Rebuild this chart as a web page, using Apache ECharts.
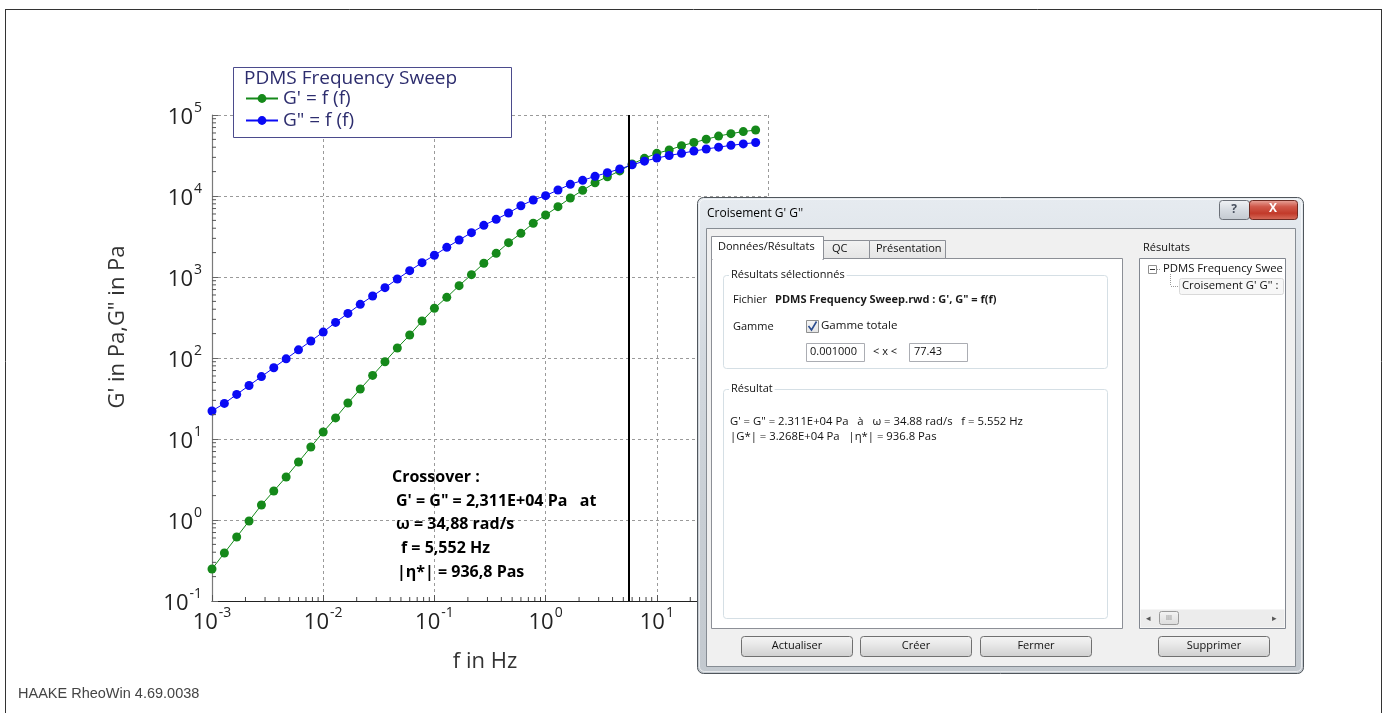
<!DOCTYPE html>
<html><head><meta charset="utf-8">
<script src="https://cdn.jsdelivr.net/npm/echarts@6/dist/echarts.min.js"></script>
<style>html,body{margin:0;padding:0;background:#fff}#c{width:1387px;height:713px}</style>
</head><body><div id="c"></div>
<script>
// ---------- data ----------
const frequencyHz = [0.001, 0.001292, 0.001668, 0.002154, 0.002783, 0.003594, 0.004642, 0.005995, 0.007743,
  0.01, 0.01292, 0.01668, 0.02154, 0.02783, 0.03594, 0.04642, 0.05995, 0.07743,
  0.1, 0.1292, 0.1668, 0.2154, 0.2783, 0.3594, 0.4642, 0.5995, 0.7743,
  1, 1.292, 1.668, 2.154, 2.783, 3.594, 4.642, 5.995, 7.743,
  10, 12.92, 16.68, 21.54, 27.83, 35.94, 46.42, 59.95, 77.43];
const gPrime = [0.248, 0.392, 0.617, 0.973, 1.53, 2.28, 3.40, 5.20, 7.96,
  12.2, 18.2, 27.8, 41.4, 61.0, 90.0, 133, 192, 286,
  411, 561, 782, 1069, 1476, 1959, 2655, 3459, 4603,
  5821, 7379, 9441, 11749, 14588, 17298, 20417, 24831, 29174,
  33651, 36983, 41687, 45709, 50119, 54954, 58884, 62373, 65313];
const gDoublePrime = [22.2, 27.5, 35.5, 45.7, 58.9, 75.9, 97.7, 126, 162,
  209, 275, 355, 460, 582, 738, 944, 1197, 1503,
  1854, 2323, 2864, 3524, 4345, 5152, 6166, 7586, 8933,
  10093, 11858, 13932, 15596, 17498, 19409, 21528, 24266, 26915,
  29376, 31623, 33651, 35892, 38019, 40088, 42170, 43954, 45709];
const crossoverHz = 5.552;
const seriesNames = ["G' = f (f)", 'G" = f (f)'];
const legendTitle = 'PDMS Frequency Sweep';
const xDecades = [0.001, 0.01, 0.1, 1, 10];
const yDecades = [0.1, 1, 10, 100, 1000, 10000];
const minorMultipliers = [2, 3, 4, 5, 6, 7, 8, 9];
const xAxisTitle = 'f in Hz';
const yAxisTitle = 'G\' in Pa,G" in Pa';
const annotationLines = ['Crossover :', 'G\' = G" = 2,311E+04 Pa   at', 'ω = 34,88 rad/s', 'f = 5,552 Hz', '|η*| = 936,8 Pas'];
const footerText = 'HAAKE RheoWin 4.69.0038';
// dialog texts
const dlgTitle = "Croisement G' G''";
const dlgTabs = ['Données/Résultats', 'QC', 'Présentation'];
const dlgGroup1 = 'Résultats sélectionnés';
const dlgFileLabel = 'Fichier';
const dlgFileName = 'PDMS Frequency Sweep.rwd : G\', G" = f(f)';
const dlgRangeLabel = 'Gamme';
const dlgRangeCheck = 'Gamme totale';
const dlgRangeMin = '0.001000';
const dlgRangeOp = '< x <';
const dlgRangeMax = '77.43';
const dlgGroup2 = 'Résultat';
const dlgResultLines = ['G\' = G" = 2.311E+04 Pa   à   ω = 34.88 rad/s   f = 5.552 Hz', '|G*| = 3.268E+04 Pa   |η*| = 936.8 Pas'];
const dlgTreeLabel = 'Résultats';
const dlgTreeItems = ['PDMS Frequency Swee', "Croisement G' G'' :"];
const dlgButtons = ['Actualiser', 'Créer', 'Fermer', 'Supprimer'];

// ---------- helpers ----------
const minorX = [];
xDecades.forEach(d => minorMultipliers.forEach(m => { if (m * d < 100) minorX.push(m * d); }));
const minorY = [];
yDecades.forEach(d => minorMultipliers.forEach(m => { if (m * d < 100000) minorY.push(m * d); }));

function supLabel(v) {
  const e = Math.round(Math.log10(v));
  return '{b|10}{s|' + e + '}';
}
const labelRich = {
  b: { fontSize: 22, fontFamily: 'Open Sans', color: '#222', lineHeight: 28, verticalAlign: 'bottom' },
  s: { fontSize: 14, fontFamily: 'Open Sans', color: '#222', lineHeight: 28, verticalAlign: 'top', padding: [0, 0, 0, 1] }
};

let zc = 100;
function R(x, y, w, h, fill, stroke, r, lw) {
  return { type: 'rect', z: zc++, silent: true, shape: { x: x + 0.5, y: y + 0.5, width: w, height: h, r: r || 0 },
    style: { fill: fill || 'none', stroke: stroke || 'none', lineWidth: lw || 1 } };
}
function T(x, y, text, o) {
  o = o || {};
  return { type: 'text', z: zc++, silent: true, x: x, y: y, rotation: o.rot || 0,
    style: { text: text, fontSize: o.size || 11, fontFamily: o.family || 'Open Sans', fontWeight: o.weight || 'normal',
      fill: o.color || '#111', align: o.align || 'left', verticalAlign: 'middle', textAlign: o.align || 'left',
      textVerticalAlign: 'middle', backgroundColor: o.bg, padding: o.pad } };
}
function L(x1, y1, x2, y2, stroke, lw, dash) {
  return { type: 'line', z: zc++, silent: true, shape: { x1: x1, y1: y1, x2: x2, y2: y2 },
    style: { stroke: stroke, lineWidth: lw || 1, lineDash: dash } };
}
function grad(stops) {
  return new echarts.graphic.LinearGradient(0, 0, 0, 1, stops.map((c, i) => ({ offset: i / (stops.length - 1), color: c })));
}

// ---------- graphic elements ----------
const g = [];
// page frame
g.push(L(5, 9.5, 1382, 9.5, '#333', 1));
g.push(L(5.5, 10, 5.5, 713, '#333', 1));
g.push(L(1381.5, 10, 1381.5, 713, '#333', 1));
g.push(T(18, 694, footerText, { size: 14.5, family: 'Liberation Sans', color: '#444' }));
// chart annotations
g.push(T(118, 327, yAxisTitle, { size: 22, color: '#333', align: 'center', rot: Math.PI / 2 }));
const annX = [392, 396, 396, 401, 397];
const annY = [477, 501, 524, 548, 572];
annotationLines.forEach((s, i) => g.push(Object.assign(T(annX[i], annY[i], s, { size: 16, weight: 'bold', color: '#000' }), { z: 6 })));
// legend box
const lb = R(233, 67, 278, 70, '#fff', '#4b4b8c', 0, 1); lb.z = 5; g.push(lb);
const lt = T(244, 79, legendTitle, { size: 19, color: '#2d2d6e' }); lt.z = 11; g.push(lt);

// ---------- dialog ----------
zc = 100;
g.push(R(697, 197, 606, 476, grad(['#e6ebf0', '#d3d9df', '#c8ced4', '#c3c9cf']), '#50565c', 6, 1));
g.push(R(699, 199, 602, 472, 'none', 'rgba(255,255,255,0.6)', 5, 1));
g.push(T(707, 214, dlgTitle, { size: 12, color: '#000' }));
g.push(R(1219, 200, 30, 19, grad(['#f1f3f6', '#d6dbe1', '#c3c9d0']), '#6b7078', 3, 1));
g.push(T(1234, 210, '?', { size: 12, color: '#4a5260', align: 'center', weight: 'bold' }));
g.push(R(1249, 200, 48, 19, grad(['#e9a99f', '#d0594b', '#c23a2a', '#d8705f']), '#6e2a22', 3, 1));
g.push(T(1273, 209, 'X', { size: 12, color: '#fff', align: 'center', weight: 'bold' }));
// client area
g.push(R(706, 228, 589, 438, '#f0f0f0', '#868c93', 0, 1));
// tab page
g.push(R(711, 258, 411, 370, '#fff', '#8c8f96', 0, 1));
// tabs
g.push(R(823, 240, 46, 18, grad(['#f3f3f3', '#e4e4e4']), '#8c8f96', 0, 1));
g.push(T(832, 249, dlgTabs[1]));
g.push(R(869, 240, 76, 18, grad(['#f3f3f3', '#e4e4e4']), '#8c8f96', 0, 1));
g.push(T(876, 249, dlgTabs[2]));
g.push(R(711, 236, 112, 23, '#fff', '#8c8f96', 0, 1));
g.push(R(712, 257, 110, 3, '#fff', 'none'));
g.push(T(718, 247, dlgTabs[0]));
// group 1
g.push(R(723, 275, 384, 93, 'none', '#d5dfe5', 3, 1));
g.push(T(729, 275, dlgGroup1, { bg: '#fff', pad: [0, 2, 0, 2] }));
g.push(T(733, 300, dlgFileLabel));
g.push(T(775, 300, dlgFileName, { size: 11, weight: 'bold', color: '#1a1a1a' }));
g.push(T(733, 327, dlgRangeLabel));
g.push(R(806, 320, 12, 12, grad(['#f6f6f6', '#e4e4e4']), '#8e8f8f', 0, 1));
g.push({ type: 'polyline', z: zc++, silent: true, shape: { points: [[808.5, 326], [811.5, 330], [816.5, 321.5]] }, style: { stroke: '#2b4d8f', lineWidth: 1.6, fill: 'none' } });
g.push(T(821, 326, dlgRangeCheck, { size: 11.5 }));
g.push(R(806, 343, 58, 18, '#fff', '#abadb3', 0, 1));
g.push(T(810, 352, dlgRangeMin));
g.push(T(873, 352, dlgRangeOp));
g.push(R(909, 343, 58, 18, '#fff', '#abadb3', 0, 1));
g.push(T(914, 352, dlgRangeMax));
// group 2
g.push(R(723, 389, 384, 229, 'none', '#d5dfe5', 3, 1));
g.push(T(729, 389, dlgGroup2, { bg: '#fff', pad: [0, 2, 0, 2] }));
g.push(T(730, 422, dlgResultLines[0], { size: 11.3 }));
g.push(T(730, 437, dlgResultLines[1], { size: 11.3 }));
// tree
g.push(T(1143, 248, dlgTreeLabel));
g.push(R(1139, 258, 146, 370, '#fff', '#828790', 0, 1));
g.push(R(1148, 265, 8, 8, '#fff', '#8f8f8f', 0, 1));
g.push(L(1150, 269.5, 1155, 269.5, '#333', 1));
g.push(L(1157, 269.5, 1161, 269.5, '#999', 1, [1, 1]));
g.push(T(1163, 269, dlgTreeItems[0], { size: 11.3 }));
g.push(L(1170.5, 274, 1170.5, 286, '#999', 1, [1, 1]));
g.push(L(1171, 286.5, 1178, 286.5, '#999', 1, [1, 1]));
g.push(R(1179, 278, 104, 16, '#f7f7f7', '#d9d9d9', 2, 1));
g.push(T(1182, 286, dlgTreeItems[1], { size: 11.3 }));
// scrollbar
g.push(R(1140, 609, 144, 18, '#ececec', 'none'));
g.push(T(1146, 618, '◂', { size: 9, color: '#555' }));
g.push(R(1159, 611, 19, 13, grad(['#f4f4f4', '#dcdcdc']), '#9a9a9a', 2, 1));
g.push(T(1169, 618, 'III', { size: 7, color: '#777', align: 'center' }));
g.push(T(1272, 618, '▸', { size: 9, color: '#555' }));
// buttons
const bx = [741, 860, 980, 1158];
dlgButtons.forEach((b, i) => {
  g.push(R(bx[i], 636, 111, 20, grad(['#f4f4f4', '#ebebeb', '#dddddd', '#cfcfcf']), '#707070', 3, 1));
  g.push(T(bx[i] + 56, 646, b, { size: 11, align: 'center' }));
});

// minor tick marks drawn through the axes' own scales
function minorTickSeries(values, onX) {
  return {
    type: 'custom', silent: true, z: 4, clip: false,
    data: values.map(v => onX ? [v, 1] : [1, v]),
    encode: { x: 0, y: 1 },
    renderItem: function (params, api) {
      const cs = params.coordSys;
      const p = api.coord([api.value(0), api.value(1)]);
      if (onX) {
        const y = cs.y + cs.height;
        return { type: 'line', shape: { x1: p[0], y1: y, x2: p[0], y2: y - 4 }, style: { stroke: '#444', lineWidth: 1 } };
      }
      return { type: 'line', shape: { x1: cs.x, y1: p[1], x2: cs.x + 4, y2: p[1] }, style: { stroke: '#555', lineWidth: 1 } };
    },
    tooltip: { show: false }
  };
}

// ---------- chart ----------
const chart = echarts.init(document.getElementById('c'), null, { renderer: 'canvas' });
chart.setOption({
  animation: false,
  backgroundColor: '#fff',
  grid: { left: 212, top: 115, width: 556, height: 486 },
  legend: {
    data: seriesNames, orient: 'vertical', left: 240, top: 83, itemGap: 1, itemWidth: 32, itemHeight: 11, z: 10,
    textStyle: { fontSize: 19, fontFamily: 'Open Sans', color: '#2d2d6e', lineHeight: 21 }
  },
  xAxis: {
    type: 'log', logBase: 10, min: 0.001, max: 100, splitNumber: 5,
    axisLine: { lineStyle: { color: '#222', width: 1.2 } },
    axisTick: { show: true, inside: true, length: 6, lineStyle: { color: '#555' } },
    axisLabel: { formatter: supLabel, rich: labelRich, margin: 5 },
    splitLine: { show: true, lineStyle: { color: '#9a9a9a', type: [3, 3], width: 1 } },
    name: xAxisTitle, nameLocation: 'middle', nameGap: 50,
    nameTextStyle: { fontSize: 22, fontFamily: 'Open Sans', color: '#333', padding: [0, 10, 0, 0] }
  },
  yAxis: {
    type: 'log', logBase: 10, min: 0.1, max: 100000, splitNumber: 6,
    axisLine: { lineStyle: { color: '#7a7a7a', width: 1.2 } },
    axisTick: { show: true, inside: true, length: 6, lineStyle: { color: '#666' } },
    axisLabel: { formatter: supLabel, rich: labelRich, margin: 10 },
    splitLine: { show: true, lineStyle: { color: '#9a9a9a', type: [3, 3], width: 1 } }
  },
  series: [
    {
      name: seriesNames[0], type: 'line',
      data: frequencyHz.map((f, i) => [f, gPrime[i]]),
      symbol: 'circle', symbolSize: 9, showSymbol: true,
      itemStyle: { color: '#15891a' }, lineStyle: { color: '#15891a', width: 1 }, z: 2
    },
    {
      name: seriesNames[1], type: 'line',
      data: frequencyHz.map((f, i) => [f, gDoublePrime[i]]),
      symbol: 'circle', symbolSize: 9, showSymbol: true,
      itemStyle: { color: '#0a0af5' }, lineStyle: { color: '#0a0af5', width: 1 }, z: 3,
      markLine: {
        silent: true, symbol: 'none', label: { show: false },
        lineStyle: { color: '#000', width: 2, type: 'solid' },
        data: [{ xAxis: crossoverHz }]
      }
    },
    minorTickSeries(minorX, true),
    minorTickSeries(minorY, false)
  ],
  graphic: { elements: g }
});
</script></body></html>
